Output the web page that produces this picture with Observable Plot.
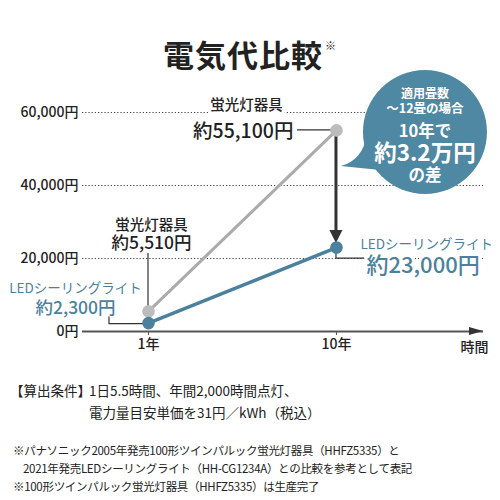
<!DOCTYPE html>
<html>
<head>
<meta charset="utf-8">
<script src="https://cdn.jsdelivr.net/npm/d3@7"></script>
<script src="https://cdn.jsdelivr.net/npm/@observablehq/plot@0.6"></script>
<style>
  body { margin: 0; background: #fff; font-family: 'Noto Sans CJK JP', sans-serif; color: #222; }
  #wrap { position: relative; width: 500px; height: 500px; overflow: hidden; }
  #title { position: absolute; left: 0; top: 36px; width: 500px; text-align: center; font-weight: 700; font-size: 31px; line-height: 31px; letter-spacing: 1px; }
  #title sup { font-size: 11px; font-weight: 400; position: relative; top: -6px; margin-left: 2px; }
  #chart { position: absolute; left: 0; top: 80px; }
  #cond { position: absolute; left: 10px; top: 379px; font-size: 13.5px; line-height: 22px; }
  #cond .row { display: flex; }
  #cond .lab { width: 79px; flex: none; }
  #notes { position: absolute; left: 13px; top: 441px; font-size: 11.5px; line-height: 18px; letter-spacing: -0.3px; }
</style>
</head>
<body>
<div id="wrap">
  <div id="title">電気代比較<sup>※</sup></div>
  <div id="chart"></div>
  <div id="cond">
    <div class="row"><span class="lab">【算出条件】</span><span>1日5.5時間、年間2,000時間点灯、</span></div>
    <div class="row"><span class="lab"></span><span>電力量目安単価を31円／kWh（税込）</span></div>
  </div>
  <div id="notes">
    <div>※パナソニック2005年発売100形ツインパルック蛍光灯器具（HHFZ5335）と</div>
    <div style="padding-left:10px">2021年発売LEDシーリングライト（HH-CG1234A）との比較を参考として表記</div>
    <div>※100形ツインパルック蛍光灯器具（HHFZ5335）は生産完了</div>
  </div>
</div>
<script>
// ---- data ----
const years = [1, 10];
const xTickLabels = ["1年", "10年"];
const fluorescent = [5510, 55100];
const led = [2300, 23000];
const yTicks = [0, 20000, 40000, 60000];
const gridTicks = [20000, 40000, 60000];
const seriesNames = ["蛍光灯器具", "LEDシーリングライト"];
const fluoLabels = ["約5,510円", "約55,100円"];
const ledLabels = ["約2,300円", "約23,000円"];
const bubbleLines = ["適用畳数", "～12畳の場合", "10年で", "約3.2万円", "の差"];
const xAxisTitle = "時間";

const fluoRows = years.map((x, i) => ({x, y: fluorescent[i]}));
const ledRows = years.map((x, i) => ({x, y: led[i]}));

const GRAY_LINE = "#ababab";
const GRAY_DOT = "#bcbcbc";
const BLUE = "#4b819c";
const BUBBLE = "#4f88a3";
const DARK = "#333";

// annotation overlay drawn with scale functions (connectors, arrow, bubble)
function overlay(index, scales, values, dims) {
  const X = scales.x, Y = scales.y;
  const g = d3.create("svg:g");
  const f1 = [X(years[0]), Y(fluorescent[0])];
  const f10 = [X(years[1]), Y(fluorescent[1])];
  const l1 = [X(years[0]), Y(led[0])];
  const l10 = [X(years[1]), Y(led[1])];
  const line = (pts) => g.append("path").attr("d", d3.line()(pts)).attr("fill", "none").attr("stroke", DARK).attr("stroke-width", 1.2);
  line([[f10[0] - 39, f10[1]], f10]);
  line([[f1[0], f1[1] - 58], f1]);
  line([[l1[0] - 39, l1[1] - 6], [l1[0] - 39, l1[1] + 1], [l1[0], l1[1] + 1]]);
  line([l10, [l10[0], l10[1] + 11], [l10[0] + 28, l10[1] + 11]]);
  // x-axis arrowhead
  const ax = dims.width - dims.marginRight, ay = dims.height - dims.marginBottom;
  g.append("path").attr("d", `M${ax},${ay}L${ax - 14},${ay - 4}L${ax - 14},${ay + 4}Z`).attr("fill", DARK);
  // bubble
  const cx = f10[0] + 89, cy = Y(60000) + 20, r = 62;
  const b = g.append("g").attr("transform", `translate(${cx},${cy})`);
  b.append("path").attr("d", "M-58,2Q-62,28,-84,34L-45,38Z").attr("fill", BUBBLE);
  b.append("circle").attr("r", r).attr("fill", BUBBLE);
  const sizes = [12, 12.5, 16.5, 22.5, 16.5];
  const ys = [-40, -25, -2, 19, 42];
  bubbleLines.forEach((t, i) => {
    b.append("text").attr("y", ys[i]).attr("text-anchor", "middle").attr("dominant-baseline", "central")
      .attr("fill", "#fff").attr("font-weight", 700).attr("font-size", sizes[i]).text(t);
  });
  return g.node();
}

function arrowMark(index, scales) {
  const X = scales.x, Y = scales.y;
  const g = d3.create("svg:g");
  const x = X(years[1]), y0 = Y(fluorescent[1]), y1 = Y(led[1]) - 4;
  g.append("line").attr("x1", x).attr("x2", x).attr("y1", y0).attr("y2", y1 - 10).attr("stroke", DARK).attr("stroke-width", 3);
  g.append("path").attr("d", `M${x},${y1}L${x - 6.5},${y1 - 13}L${x + 6.5},${y1 - 13}Z`).attr("fill", DARK);
  return g.node();
}

const halo = {stroke: "white", strokeWidth: 6};
const chart = Plot.plot({
  width: 500,
  height: 280,
  marginLeft: 82,
  marginRight: 17,
  marginTop: 32,
  marginBottom: 29,
  x: {domain: [-2.16, 17.04]},
  y: {domain: [0, 60000]},
  style: {fontFamily: "'Noto Sans CJK JP', sans-serif", color: "#222", background: "white", overflow: "visible"},
  marks: [
    Plot.ruleY(gridTicks, {stroke: "#444", strokeDasharray: "1.2,2", strokeWidth: 1}),
    Plot.axisY({ticks: yTicks, tickFormat: d => d3.format(",")(d) + "円", tickSize: 0, tickPadding: 4, fontSize: 14, fontWeight: 500, label: null}),
    Plot.axisX({ticks: years, tickFormat: d => xTickLabels[years.indexOf(d)], tickSize: 4, tickPadding: 4, fontSize: 14, fontWeight: 500, label: null, stroke: "#555"}),
    Plot.ruleY([0], {stroke: "#555", strokeWidth: 2}),
    Plot.text([xAxisTitle], {frameAnchor: "bottom-right", textAnchor: "end", dx: 5, dy: 20, fontSize: 14, fontWeight: 500}),
    // labels
    Plot.text([{x: years[1], y: fluorescent[1]}], {x: "x", y: "y", text: () => seriesNames[0], dx: -90, dy: -25, fontSize: 14.5, fontWeight: 500, ...halo, fill: "#222"}),
    Plot.text([{x: years[1], y: fluorescent[1]}], {x: "x", y: "y", text: () => fluoLabels[1], textAnchor: "end", dx: -43, dy: 1, fontSize: 19.5, fontWeight: 500, ...halo, fill: "#222"}),
    Plot.text([{x: years[0], y: fluorescent[0]}], {x: "x", y: "y", text: () => seriesNames[0], dx: 3, dy: -86, fontSize: 14.5, fontWeight: 500, ...halo, fill: "#222"}),
    Plot.text([{x: years[0], y: fluorescent[0]}], {x: "x", y: "y", text: () => fluoLabels[0], dx: 3, dy: -68, fontSize: 17.5, fontWeight: 500, ...halo, fill: "#222"}),
    Plot.text([{x: years[0], y: led[0]}], {x: "x", y: "y", text: () => seriesNames[1], dx: -73, dy: -34, fontSize: 13.5, ...halo, fill: BLUE}),
    Plot.text([{x: years[0], y: led[0]}], {x: "x", y: "y", text: () => ledLabels[0], dx: -73, dy: -15, fontSize: 17.5, fontWeight: 500, ...halo, fill: BLUE}),
    Plot.text([{x: years[1], y: led[1]}], {x: "x", y: "y", text: () => seriesNames[1], textAnchor: "start", dx: 24, dy: -3, fontSize: 13.5, ...halo, fill: BLUE}),
    Plot.text([{x: years[1], y: led[1]}], {x: "x", y: "y", text: () => ledLabels[1], textAnchor: "start", dx: 30, dy: 18, fontSize: 22, fontWeight: 500, ...halo, fill: BLUE}),
    overlay,
    Plot.line(fluoRows, {x: "x", y: "y", stroke: GRAY_LINE, strokeWidth: 3}),
    Plot.line(ledRows, {x: "x", y: "y", stroke: BLUE, strokeWidth: 3.5}),
    arrowMark,
    Plot.dot(fluoRows, {x: "x", y: "y", r: 6.3, fill: GRAY_DOT}),
    Plot.dot(ledRows, {x: "x", y: "y", r: 6.3, fill: BLUE})
  ]
});
document.getElementById("chart").appendChild(chart);
</script>
</body>
</html>
